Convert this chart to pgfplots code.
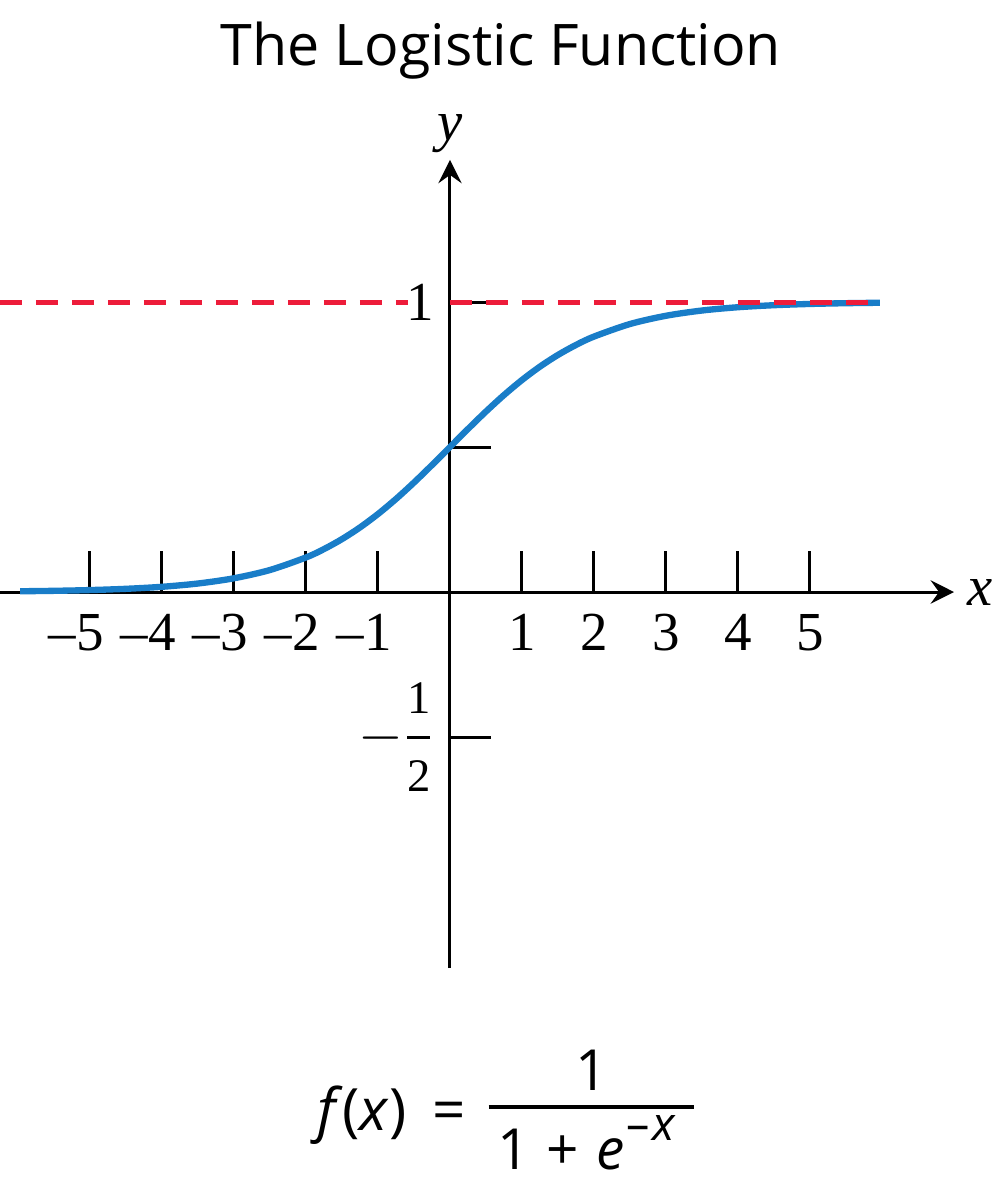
\documentclass[border=0pt]{standalone}
\usepackage{fontspec}
\usepackage{amsmath}
\usepackage{pgfplots}
\pgfplotsset{compat=1.18}
\usetikzlibrary{arrows.meta}
\setmainfont{Liberation Serif}
\newfontfamily\sans{Open Sans}
\definecolor{curveblue}{RGB}{25,125,200}
\definecolor{asymred}{RGB}{237,28,58}
\begin{document}
\begin{tikzpicture}
\useasboundingbox (-135pt,177.6pt) rectangle (165.9pt,-182.4pt);
\begin{axis}[
  anchor=origin, at={(0pt,0pt)},
  x=21.6pt, y=87pt,
  xmin=-6.25, xmax=7.0, ymin=-1.297, ymax=1.49,
  axis lines=middle,
  clip=false,
  axis line style={line width=0.9pt, -{Stealth[length=7pt,width=7pt,inset=2.5pt]}},
  xtick={-5,-4,-3,-2,-1,1,2,3,4,5},
  xticklabels={\llap{\textendash}5,\llap{\textendash}4,\llap{\textendash}3,\llap{\textendash}2,\llap{\textendash}1,1,2,3,4,5},
  ytick={-0.5,0.5,1},
  yticklabels={{$-\genfrac{}{}{0.8pt}{0}{\mbox{\fontsize{14}{16}\selectfont 1}}{\mbox{\fontsize{14}{16}\selectfont 2}}$},{},1},
  major tick length=12.3pt,
  tick align=center,
  xtick style={yshift=6.15pt, line width=0.9pt, black},
  ytick style={xshift=6.15pt, line width=0.9pt, black},
  /pgf/number format/assume math mode=true,
  tick label style={font=\fontsize{16.5}{19}\selectfont},
  xticklabel style={anchor=north, yshift=3pt},
  yticklabel style={anchor=east, xshift=5pt},
  xlabel={\textit{x}},
  ylabel={\textit{y}},
  xlabel style={at={(axis cs:7.0,0)}, anchor=west, inner sep=4pt, font=\fontsize{17}{20}\selectfont},
  ylabel style={at={(axis cs:0,1.49)}, anchor=south, inner sep=2pt, font=\fontsize{17}{20}\selectfont},
]
\addplot[curveblue, line width=1.9pt, smooth] coordinates {
(-5.97,0.00255) (-5.5,0.00407) (-5,0.00669) (-4.5,0.01099) (-4,0.01799)
(-3.5,0.02931) (-3,0.04743) (-2.5,0.07586) (-2,0.11920) (-1.75,0.14805)
(-1.5,0.18243) (-1.25,0.22270) (-1,0.26894) (-0.75,0.32082) (-0.5,0.37754)
(-0.25,0.43782) (0,0.5) (0.25,0.56218) (0.5,0.62246) (0.75,0.67918)
(1,0.73106) (1.25,0.77730) (1.5,0.81757) (1.75,0.85195) (2,0.88080)
(2.5,0.92414) (3,0.95257) (3.5,0.97069) (4,0.98201) (4.5,0.98901)
(5,0.99331) (5.5,0.99593) (5.97,0.99745)
};
\addplot[asymred, line width=1.5pt, dash pattern=on 6.6pt off 4.2pt] coordinates {(-6.25,1) (-0.58,1)};
\addplot[asymred, line width=1.5pt, dash pattern=on 6.6pt off 4.2pt] coordinates {(0,1) (5.97,1)};
\end{axis}
\node[font=\sans\fontsize{17.2}{20}\selectfont, anchor=base] at (15.3pt,158.1pt) {The Logistic Function};
% formula f(x) = 1/(1+e^{-x})
\node[font=\sans\fontsize{17.5}{20}\selectfont, anchor=base east, inner sep=0pt] at (5.1pt,-161.4pt)
  {\textit{f}(\textit{x})\hspace{0.45em}=};
\node[inner sep=0pt, anchor=west] at (11.4pt,-154.5pt) {\rule{61.5pt}{1.2pt}};
\node[font=\sans\fontsize{17}{20}\selectfont, anchor=base, inner sep=0pt] at (42.6pt,-149.4pt) {1};
\node[font=\sans\fontsize{17}{20}\selectfont, anchor=base west, inner sep=0pt] at (14.0pt,-173.1pt)
  {1\hspace{0.3em}+\hspace{0.3em}\textit{e}\raisebox{0.5em}{\fontsize{14}{16}\selectfont\kern0.5pt\textendash\kern1pt\textit{x}}};
\end{tikzpicture}
\end{document}
